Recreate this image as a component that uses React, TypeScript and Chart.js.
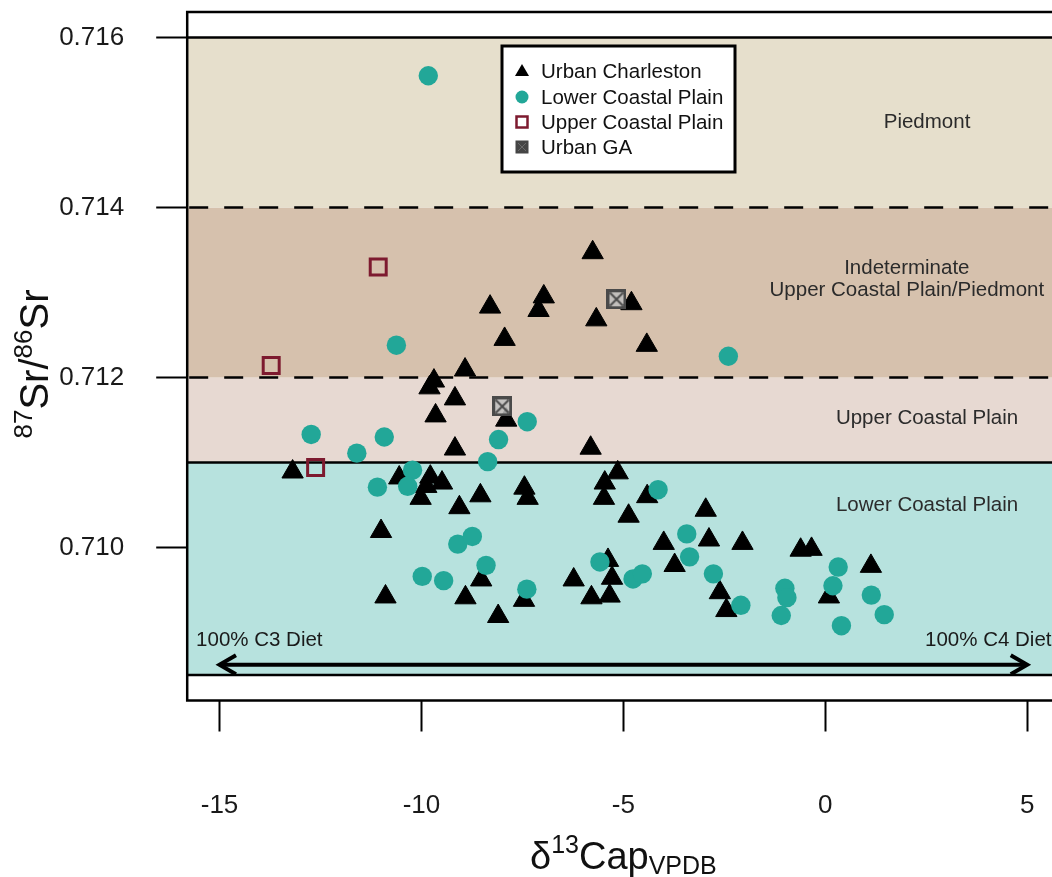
import React, { useEffect, useRef } from "react";
import { Chart, registerables } from "chart.js";

Chart.register(...registerables);

// ---------------- data ----------------
const charlestonX = [-5.76, -8.30, -6.97, -7.10, -4.80, -5.67, -7.94, -4.42, -8.92, -9.69, -9.80, -9.17, -9.65, -7.90, -9.17, -5.81, -13.19, -5.14, -5.46, -10.55, -9.78, -9.49, -9.88, -10.02, -7.45, -7.37, -8.54, -5.48, -4.41, -9.06, -4.87, -2.96, -11.00, -4.00, -2.88, -2.05, -3.73, -2.61, -2.45, -5.38, -5.28, -6.23, -5.79, -5.34, -7.46, -8.10, -8.52, -8.91, -10.89, -0.61, -0.34, 1.13, 0.09];
const charlestonY = [0.71347, 0.71283, 0.71295, 0.71279, 0.71287, 0.71268, 0.71245, 0.71238, 0.71209, 0.71196, 0.71188, 0.71175, 0.71155, 0.71150, 0.71116, 0.71117, 0.71089, 0.71088, 0.71076, 0.71082, 0.71083, 0.71076, 0.71072, 0.71058, 0.71070, 0.71058, 0.71061, 0.71058, 0.71060, 0.71047, 0.71037, 0.71044, 0.71019, 0.71005, 0.71009, 0.71005, 0.70979, 0.70947, 0.70926, 0.70985, 0.70964, 0.70962, 0.70941, 0.70943, 0.70938, 0.70919, 0.70962, 0.70941, 0.70942, 0.70997, 0.70998, 0.70978, 0.70942];

const lowerX = [-9.83, -10.62, -2.40, -12.73, -10.92, -11.60, -7.38, -8.09, -8.36, -11.09, -10.22, -10.34, -4.14, -9.10, -8.74, -3.43, -3.36, -2.77, -2.09, -5.58, -4.76, -4.53, -7.39, -8.40, -9.98, -9.45, 0.32, 0.19, -1.00, -0.95, -1.09, 1.14, 1.46, 0.40];
const lowerY = [0.71555, 0.71238, 0.71225, 0.71133, 0.71130, 0.71111, 0.71148, 0.71127, 0.71101, 0.71071, 0.71091, 0.71072, 0.71068, 0.71004, 0.71013, 0.71016, 0.70989, 0.70969, 0.70932, 0.70983, 0.70963, 0.70969, 0.70951, 0.70979, 0.70966, 0.70961, 0.70977, 0.70955, 0.70952, 0.70941, 0.70920, 0.70944, 0.70921, 0.70908];

const upperX = [-11.07, -13.72, -12.62];
const upperY = [0.71330, 0.71214, 0.71094];

const gaX = [-5.17, -8.00];
const gaY = [0.71292, 0.71166];

const seriesNames = ["Urban Charleston", "Lower Coastal Plain", "Upper Coastal Plain", "Urban GA"];

const xTicks = [-15, -10, -5, 0, 5];
const yTicks = [0.710, 0.712, 0.714, 0.716];
const xRange = [-15.8, 5.8];
const yRange = [0.7082, 0.7163];

// background zones
const zoneLow = [0.7085, 0.711, 0.712, 0.714];
const zoneHigh = [0.711, 0.712, 0.714, 0.716];
const solidLevels = [0.7085, 0.711, 0.716];
const dashedLevels = [0.712, 0.714];

// zone labels (each line separately)
const zoneLabelText = ["Piedmont", "Indeterminate", "Upper Coastal Plain/Piedmont", "Upper Coastal Plain", "Lower Coastal Plain"];
const zoneLabelX = [2.52, 2.02, 2.02, 2.52, 2.52];
const zoneLabelY = [0.71500, 0.71329, 0.71302, 0.71152, 0.71050];

// diet arrow
const arrowFrom = -15;
const arrowTo = 5;
const arrowLevel = 0.70862;
const dietText = ["100% C3 Diet", "100% C4 Diet"];
const dietX = [-15.58, 2.47];
const dietY = 0.70891;

// ---------------- styles ----------------
const FONT = '"Liberation Sans", Arial, Helvetica, sans-serif';
const zoneColors = ["#b7e2de", "#e7d9d2", "#d6c1ad", "#e6dfcc"];
const TEAL = "#22a798";
const MAROON = "#7d1a2f";

const zip = (xs: number[], ys: number[]) => xs.map((x, i) => ({ x, y: ys[i] }));

function makeGaMarker(size: number): HTMLCanvasElement {
  const c = document.createElement("canvas");
  c.width = size;
  c.height = size;
  const g = c.getContext("2d")!;
  const m = 1.5;
  g.fillStyle = "rgba(190,190,190,0.85)";
  g.fillRect(m, m, size - 2 * m, size - 2 * m);
  g.strokeStyle = "#4a4a4a";
  g.lineWidth = 3;
  g.strokeRect(m, m, size - 2 * m, size - 2 * m);
  g.lineWidth = 2;
  g.beginPath();
  g.moveTo(m + 2, m + 2);
  g.lineTo(size - m - 2, size - m - 2);
  g.moveTo(size - m - 2, m + 2);
  g.lineTo(m + 2, size - m - 2);
  g.stroke();
  return c;
}

type Part = { t: string; s: number; dy: number };
function drawRich(ctx: CanvasRenderingContext2D, parts: Part[], cx: number, baseY: number) {
  let total = 0;
  const widths = parts.map((p) => {
    ctx.font = `${p.s}px ${FONT}`;
    const w = ctx.measureText(p.t).width;
    total += w;
    return w;
  });
  let x = cx - total / 2;
  ctx.textAlign = "left";
  ctx.textBaseline = "alphabetic";
  parts.forEach((p, i) => {
    ctx.font = `${p.s}px ${FONT}`;
    ctx.fillText(p.t, x, baseY + p.dy);
    x += widths[i];
  });
}

const decorPlugin = {
  id: "decor",
  beforeDatasetsDraw(chart: any) {
    const { ctx, chartArea: a, scales } = chart;
    const xs = scales.x;
    const ys = scales.y;
    ctx.save();
    ctx.beginPath();
    ctx.rect(a.left, a.top, a.right - a.left, a.bottom - a.top);
    ctx.clip();
    // zones
    zoneLow.forEach((lo, i) => {
      const top = ys.getPixelForValue(zoneHigh[i]);
      const bot = ys.getPixelForValue(lo);
      ctx.fillStyle = zoneColors[i];
      ctx.fillRect(a.left, top, a.right - a.left, bot - top);
    });
    // boundary lines
    ctx.strokeStyle = "#000";
    ctx.lineWidth = 2.5;
    solidLevels.forEach((v) => {
      const py = ys.getPixelForValue(v);
      ctx.setLineDash([]);
      ctx.beginPath();
      ctx.moveTo(a.left, py);
      ctx.lineTo(a.right, py);
      ctx.stroke();
    });
    dashedLevels.forEach((v) => {
      const py = ys.getPixelForValue(v);
      ctx.setLineDash([19, 16]);
      ctx.beginPath();
      ctx.moveTo(a.left + 2, py);
      ctx.lineTo(a.right, py);
      ctx.stroke();
    });
    ctx.setLineDash([]);
    // zone labels
    ctx.fillStyle = "#2b2b2b";
    ctx.font = `20.5px ${FONT}`;
    ctx.textAlign = "center";
    ctx.textBaseline = "middle";
    zoneLabelText.forEach((t, i) => {
      ctx.fillText(t, xs.getPixelForValue(zoneLabelX[i]), ys.getPixelForValue(zoneLabelY[i]));
    });
    // diet labels
    ctx.textAlign = "left";
    ctx.fillStyle = "#1a1a1a";
    dietText.forEach((t, i) => {
      ctx.fillText(t, xs.getPixelForValue(dietX[i]), ys.getPixelForValue(dietY));
    });
    // double arrow
    const ay = ys.getPixelForValue(arrowLevel);
    const x1 = xs.getPixelForValue(arrowFrom);
    const x2 = xs.getPixelForValue(arrowTo);
    ctx.lineWidth = 4;
    ctx.lineCap = "butt";
    ctx.lineJoin = "miter";
    ctx.beginPath();
    ctx.moveTo(x1 + 2, ay);
    ctx.lineTo(x2 - 2, ay);
    ctx.stroke();
    const hl = 19;
    const ha = Math.PI / 6;
    ctx.beginPath();
    ctx.moveTo(x1 + hl * Math.cos(ha), ay - hl * Math.sin(ha));
    ctx.lineTo(x1, ay);
    ctx.lineTo(x1 + hl * Math.cos(ha), ay + hl * Math.sin(ha));
    ctx.moveTo(x2 - hl * Math.cos(ha), ay - hl * Math.sin(ha));
    ctx.lineTo(x2, ay);
    ctx.lineTo(x2 - hl * Math.cos(ha), ay + hl * Math.sin(ha));
    ctx.stroke();
    ctx.restore();
    // plot box
    ctx.save();
    ctx.strokeStyle = "#000";
    ctx.lineWidth = 2.5;
    ctx.strokeRect(a.left, a.top, a.right - a.left, a.bottom - a.top);
    ctx.restore();
  },
  afterDatasetsDraw(chart: any) {
    const { ctx } = chart;
    ctx.save();
    const L = 502, T = 46, R = 735, B = 172;
    ctx.fillStyle = "#fff";
    ctx.fillRect(L, T, R - L, B - T);
    ctx.strokeStyle = "#000";
    ctx.lineWidth = 3;
    ctx.strokeRect(L, T, R - L, B - T);
    const mx = 522;
    const rows = [71, 97, 122, 147];
    ctx.fillStyle = "#000";
    ctx.beginPath();
    ctx.moveTo(mx, rows[0] - 7);
    ctx.lineTo(mx + 7, rows[0] + 5);
    ctx.lineTo(mx - 7, rows[0] + 5);
    ctx.closePath();
    ctx.fill();
    ctx.fillStyle = TEAL;
    ctx.beginPath();
    ctx.arc(mx, rows[1], 6.5, 0, Math.PI * 2);
    ctx.fill();
    ctx.strokeStyle = MAROON;
    ctx.lineWidth = 2.5;
    ctx.strokeRect(mx - 5.5, rows[2] - 5.5, 11, 11);
    ctx.fillStyle = "#454545";
    ctx.fillRect(mx - 6.5, rows[3] - 6.5, 13, 13);
    ctx.strokeStyle = "#6a6a6a";
    ctx.lineWidth = 1;
    ctx.beginPath();
    ctx.moveTo(mx - 4, rows[3] - 4);
    ctx.lineTo(mx + 4, rows[3] + 4);
    ctx.moveTo(mx + 4, rows[3] - 4);
    ctx.lineTo(mx - 4, rows[3] + 4);
    ctx.stroke();
    ctx.fillStyle = "#111";
    ctx.font = `20.5px ${FONT}`;
    ctx.textAlign = "left";
    ctx.textBaseline = "middle";
    seriesNames.forEach((n, i) => ctx.fillText(n, 541, rows[i] + 1));
    ctx.restore();
  },
  afterDraw(chart: any) {
    const { ctx, chartArea: a } = chart;
    ctx.save();
    ctx.fillStyle = "#111";
    drawRich(
      ctx,
      [
        { t: "δ", s: 38, dy: 0 },
        { t: "13", s: 25, dy: -16 },
        { t: "Cap", s: 38, dy: 0 },
        { t: "VPDB", s: 25, dy: 5 },
      ],
      (a.left + a.right) / 2,
      869
    );
    ctx.translate(48, 364);
    ctx.rotate(-Math.PI / 2);
    drawRich(
      ctx,
      [
        { t: "87", s: 26, dy: -16 },
        { t: "Sr/", s: 40, dy: 0 },
        { t: "86", s: 26, dy: -16 },
        { t: "Sr", s: 40, dy: 0 },
      ],
      0,
      0
    );
    ctx.restore();
  },
};

const zeroPad = (s: any) => {
  s.paddingTop = 0;
  s.paddingBottom = 0;
  s.paddingLeft = 0;
  s.paddingRight = 0;
};

export default function App() {
  const ref = useRef<HTMLCanvasElement | null>(null);

  useEffect(() => {
    if (!ref.current) return;
    const gaMarker = makeGaMarker(20);
    const chart = new Chart(ref.current, {
      type: "scatter",
      data: {
        datasets: [
          { label: seriesNames[3], data: zip(gaX, gaY), pointStyle: gaMarker as any, pointRadius: 10 },
          {
            label: seriesNames[2],
            data: zip(upperX, upperY),
            pointStyle: "rect",
            pointRadius: 11.3,
            backgroundColor: "rgba(0,0,0,0)",
            borderColor: MAROON,
            borderWidth: 3,
          },
          {
            label: seriesNames[1],
            data: zip(lowerX, lowerY),
            pointStyle: "circle",
            pointRadius: 9.7,
            backgroundColor: TEAL,
            borderColor: TEAL,
            borderWidth: 0,
          },
          {
            label: seriesNames[0],
            data: zip(charlestonX, charlestonY),
            pointStyle: "triangle",
            pointRadius: 12.3,
            backgroundColor: "#000",
            borderColor: "#000",
            borderWidth: 1,
          },
        ],
      },
      options: {
        animation: false,
        responsive: false,
        devicePixelRatio: 1,
        events: [],
        layout: { autoPadding: false, padding: { top: 12, right: 10.5, bottom: 0, left: 0 } },
        plugins: { legend: { display: false }, tooltip: { enabled: false }, title: { display: false } },
        scales: {
          x: {
            type: "linear",
            min: xRange[0],
            max: xRange[1],
            afterBuildTicks: (s: any) => {
              s.ticks = xTicks.map((v) => ({ value: v }));
            },
            afterFit: (s: any) => {
              s.height = 176.5;
              zeroPad(s);
            },
            grid: { display: true, drawOnChartArea: false, drawTicks: true, tickLength: 31, tickWidth: 2, tickColor: "#000" },
            border: { display: false },
            ticks: {
              autoSkip: false,
              maxRotation: 0,
              padding: 59,
              color: "#1a1a1a",
              font: { size: 26, family: FONT },
              callback: (v: any) => String(v),
            },
          },
          y: {
            type: "linear",
            min: yRange[0],
            max: yRange[1],
            afterBuildTicks: (s: any) => {
              s.ticks = yTicks.map((v) => ({ value: v }));
            },
            afterFit: (s: any) => {
              s.width = 187.2;
              zeroPad(s);
            },
            grid: { display: true, drawOnChartArea: false, drawTicks: true, tickLength: 31, tickWidth: 2, tickColor: "#000" },
            border: { display: false },
            ticks: {
              autoSkip: false,
              padding: 32,
              color: "#1a1a1a",
              font: { size: 26, family: FONT },
              callback: (v: any) => Number(v).toFixed(3),
            },
          },
        },
      },
      plugins: [decorPlugin],
    });
    return () => chart.destroy();
  }, []);

  return (
    <div style={{ position: "fixed", left: 0, top: 0, width: 1052, height: 877, overflow: "hidden", background: "#fff" }}>
      <canvas ref={ref} width={1070} height={877} style={{ display: "block" }} />
    </div>
  );
}
